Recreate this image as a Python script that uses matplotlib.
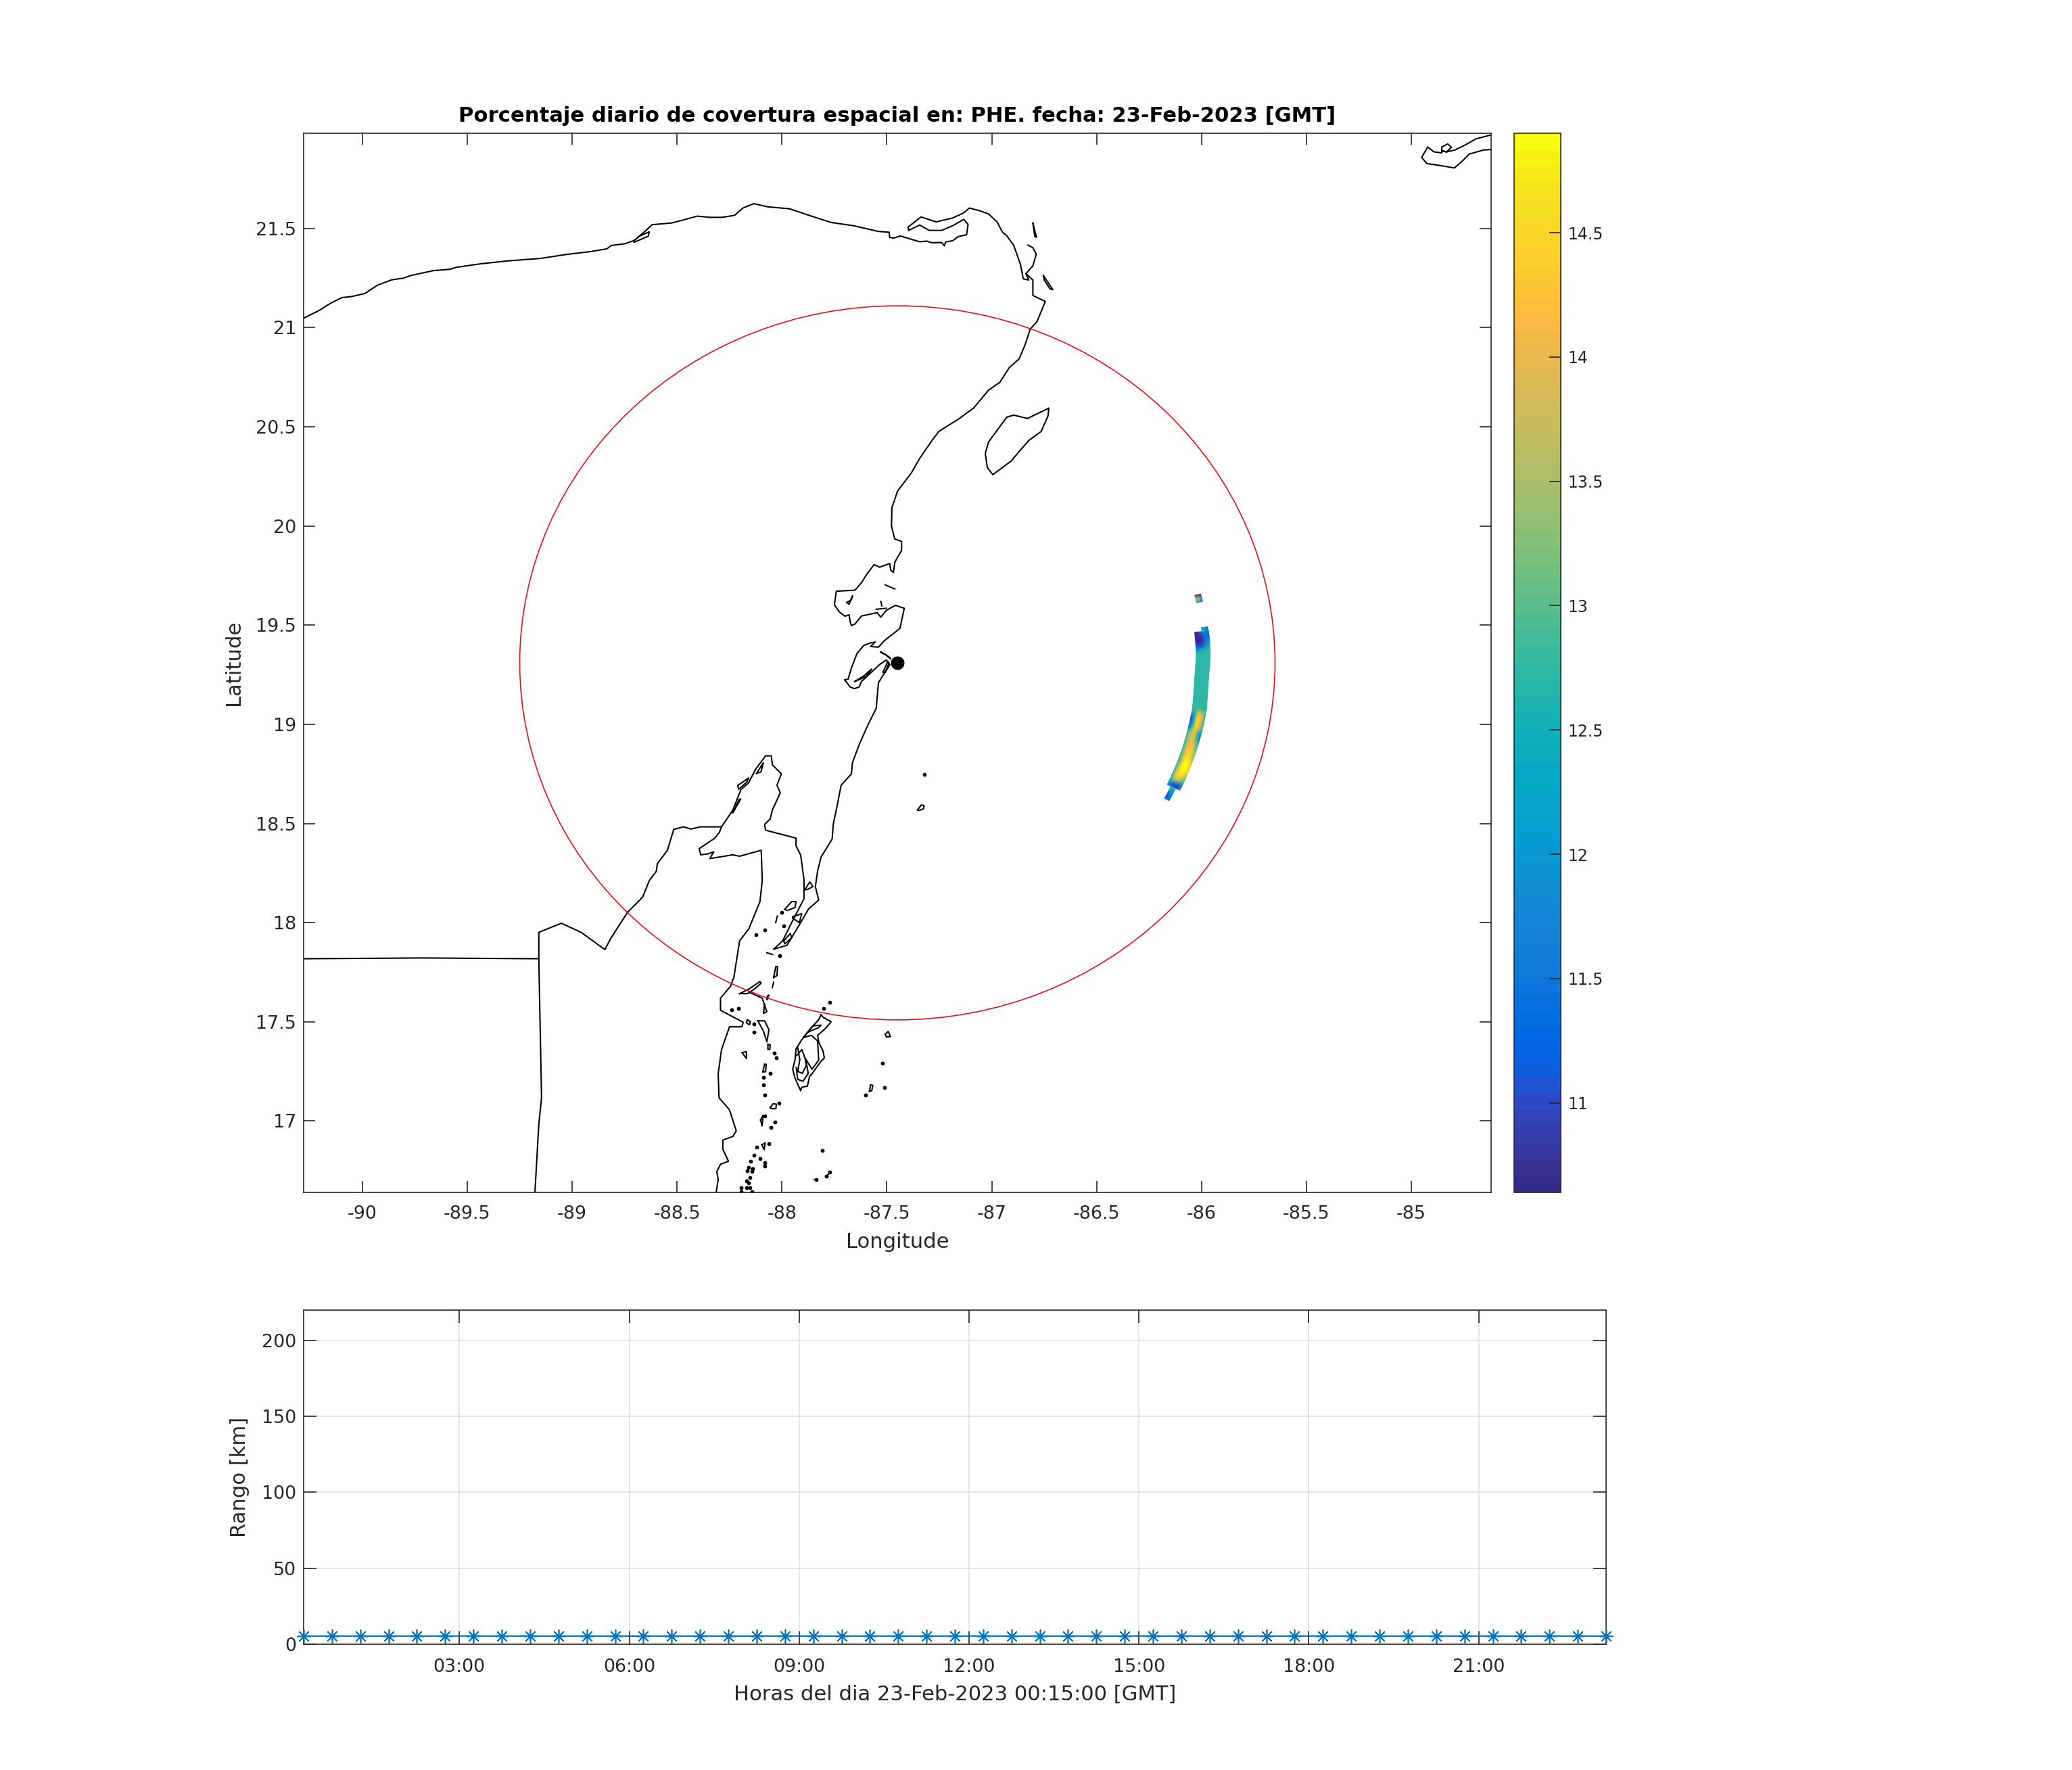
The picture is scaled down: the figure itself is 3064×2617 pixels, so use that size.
import numpy as np
import matplotlib
matplotlib.use("Agg")
import matplotlib.pyplot as plt
from matplotlib.colors import ListedColormap
from matplotlib.patches import Circle

plt.rcParams["font.family"] = "DejaVu Sans"
plt.rcParams["axes.unicode_minus"] = False

# radar site and its coverage circle (degrees)
radar_lon = -87.45
radar_lat = 19.31
coverage_radius = 1.8

# ---- coast lines, lon/lat ----
coast_north = [(-90.277,21.049),(-90.207,21.086),(-90.151,21.123),(-90.099,21.151),(-90.05,21.157),
    (-89.988,21.172),(-89.928,21.214),(-89.86,21.241),(-89.806,21.249),(-89.768,21.263),(-89.663,21.287),
    (-89.583,21.294),(-89.552,21.304),(-89.434,21.322),(-89.31,21.336),(-89.15,21.349),(-89.026,21.369),
    (-88.915,21.383),(-88.835,21.397),(-88.814,21.414),(-88.748,21.423),(-88.706,21.439),(-88.680,21.461),
    (-88.643,21.495),(-88.619,21.519),(-88.523,21.528),(-88.404,21.562),(-88.344,21.556),(-88.285,21.556),
    (-88.226,21.566),(-88.186,21.603),(-88.134,21.625),(-88.068,21.609),(-87.963,21.599),(-87.871,21.566),
    (-87.765,21.53),(-87.66,21.514),(-87.541,21.485),(-87.489,21.481),(-87.487,21.455),(-87.469,21.451),
    (-87.436,21.462),(-87.344,21.433),(-87.31,21.436),(-87.285,21.428),(-87.239,21.429),(-87.226,21.412),
    (-87.22,21.432),(-87.186,21.438),(-87.16,21.459),(-87.12,21.468),(-87.113,21.52),(-87.133,21.546),
    (-87.186,21.514),(-87.239,21.490),(-87.298,21.490),(-87.344,21.517),(-87.397,21.490),(-87.399,21.507),
    (-87.337,21.558),(-87.265,21.533),(-87.186,21.553),(-87.133,21.579),(-87.107,21.603),(-87.06,21.59),
    (-87.015,21.573),(-86.975,21.533),(-86.949,21.481),(-86.93,21.465),(-86.896,21.416),(-86.863,21.318),
    (-86.850,21.246),(-86.824,21.240),(-86.837,21.272),(-86.804,21.312),(-86.788,21.370),(-86.804,21.403),
    (-86.828,21.416)]
coast_east = [(-86.837,21.272),(-86.804,21.240),(-86.804,21.162),(-86.745,21.132),(-86.784,21.031),
    (-86.817,20.992),(-86.841,20.914),(-86.870,20.842),(-86.916,20.799),(-86.962,20.724),(-87.015,20.685),
    (-87.087,20.594),(-87.160,20.538),(-87.252,20.477),(-87.285,20.431),(-87.344,20.340),(-87.383,20.268),
    (-87.449,20.176),(-87.476,20.092),(-87.478,20.000),(-87.463,19.935),(-87.430,19.922),(-87.430,19.876),
    (-87.462,19.818),(-87.469,19.765),(-87.482,19.778),(-87.486,19.811),(-87.535,19.792),(-87.561,19.805),
    (-87.594,19.759),(-87.620,19.716),(-87.642,19.688),(-87.653,19.676),(-87.741,19.671),(-87.750,19.603),
    (-87.728,19.568),(-87.70,19.545),(-87.680,19.552),(-87.675,19.517),(-87.669,19.498),(-87.652,19.506),
    (-87.621,19.546),(-87.546,19.563),(-87.529,19.540),(-87.503,19.574),(-87.46,19.60),(-87.417,19.585),
    (-87.438,19.483),(-87.513,19.421),(-87.540,19.389),(-87.578,19.392),(-87.555,19.415),(-87.580,19.410),
    (-87.610,19.398),(-87.642,19.358),(-87.669,19.284),(-87.685,19.227),(-87.702,19.225),(-87.675,19.188),
    (-87.655,19.18),(-87.632,19.188),(-87.621,19.216),(-87.535,19.301),(-87.503,19.324),(-87.49,19.31),
    (-87.505,19.27),(-87.540,19.210),(-87.551,19.080),(-87.589,19.000),(-87.632,18.898),(-87.664,18.807),
    (-87.669,18.750),(-87.718,18.693),(-87.739,18.580),(-87.755,18.500),(-87.761,18.421),(-87.814,18.330),
    (-87.830,18.261),(-87.841,18.182),(-87.825,18.114),(-87.874,18.068),(-87.911,18.000),(-87.976,17.886),
    (-88.040,17.866),(-87.997,17.908),(-87.954,18.000),(-87.895,18.121),(-87.895,18.216),(-87.911,18.341),
    (-87.933,18.387),(-87.933,18.426),(-88.078,18.466),(-88.083,18.495),(-88.056,18.523),(-88.046,18.568),
    (-88.008,18.654),(-88.024,18.693),(-88.003,18.750),(-88.046,18.796),(-88.051,18.841),(-88.078,18.841),
    (-88.126,18.773),(-88.159,18.705),(-88.196,18.670),(-88.234,18.568),(-88.288,18.483),(-88.390,18.483),
    (-88.433,18.472),(-88.470,18.483),(-88.516,18.470)]
coast_west = [(-90.28,17.818),(-89.713,17.822),(-89.159,17.818),(-89.159,17.951),(-89.052,17.997),(-88.957,17.951),
    (-88.844,17.864),(-88.818,17.917),(-88.737,18.051),(-88.664,18.129),(-88.632,18.213),(-88.599,18.259),
    (-88.594,18.297),(-88.546,18.365),(-88.516,18.470)]
border_south = [(-89.159,17.818),(-89.146,17.118),(-89.159,16.985),(-89.178,16.632)]
coast_belize = [(-88.288,18.483),(-88.298,18.456),(-88.320,18.426),(-88.395,18.373),(-88.387,18.342),(-88.352,18.347),
    (-88.325,18.357),(-88.344,18.323),(-88.234,18.342),(-88.202,18.335),(-88.099,18.365),(-88.094,18.213),
    (-88.105,18.106),(-88.158,17.969),(-88.202,17.908),(-88.229,17.726),(-88.245,17.680),(-88.293,17.619),
    (-88.293,17.558),(-88.239,17.528),(-88.185,17.498),(-88.191,17.475),(-88.250,17.475),(-88.288,17.361),
    (-88.304,17.239),(-88.300,17.117),(-88.250,17.056),(-88.218,16.950),(-88.234,16.922),(-88.282,16.904),
    (-88.282,16.858),(-88.255,16.797),(-88.293,16.782),(-88.311,16.744),(-88.304,16.706),(-88.315,16.630)]
holbox = [(-88.705,21.430),(-88.637,21.461),(-88.633,21.483),(-88.680,21.461),(-88.705,21.438)]
cuba_tip = [(-84.60,21.90),(-84.658,21.895),(-84.724,21.875),(-84.756,21.841),(-84.795,21.805),(-84.855,21.816),
    (-84.926,21.827),(-84.951,21.858),(-84.922,21.911),(-84.893,21.886),(-84.855,21.881),(-84.855,21.911),
    (-84.827,21.926),(-84.809,21.909),(-84.833,21.886),(-84.855,21.892),(-84.833,21.886),(-84.794,21.895),
    (-84.745,21.920),(-84.691,21.952),(-84.60,21.977)]
cozumel = [(-86.929,20.548),(-86.896,20.559),(-86.830,20.542),(-86.728,20.594),(-86.732,20.555),(-86.765,20.476),
    (-86.824,20.431),(-86.909,20.326),(-86.995,20.259),(-87.021,20.294),(-87.031,20.366),(-87.015,20.424),(-86.929,20.548)]
turneffe = [(-87.814,17.536),(-87.825,17.511),(-87.868,17.460),(-87.906,17.409),(-87.933,17.364),(-87.938,17.307),
    (-87.949,17.261),(-87.938,17.216),(-87.911,17.153),(-87.906,17.170),(-87.879,17.176),(-87.868,17.226),
    (-87.857,17.238),(-87.814,17.301),(-87.798,17.318),(-87.804,17.352),(-87.825,17.398),(-87.830,17.432),
    (-87.793,17.466),(-87.766,17.500),(-87.804,17.523),(-87.814,17.536)]
turneffe_inner = [(-87.874,17.449),(-87.825,17.471),(-87.814,17.483),(-87.852,17.480),(-87.900,17.420),(-87.860,17.432),
    (-87.830,17.403),(-87.825,17.307),(-87.857,17.261),(-87.890,17.318),(-87.884,17.280),(-87.903,17.240),
    (-87.925,17.25),(-87.915,17.31),(-87.925,17.37)]
turneffe_reef = [(-87.930,17.33),(-87.905,17.36),(-87.885,17.30),(-87.875,17.24),(-87.900,17.20),(-87.925,17.21),(-87.932,17.27)]

# islands, reefs and cays, closed or streak shaped
islands = [
    [(-86.804,21.527),(-86.787,21.455),(-86.795,21.46),(-86.804,21.527)],
    [(-86.754,21.263),(-86.709,21.191),(-86.722,21.195),(-86.750,21.24),(-86.754,21.263)],
    [(-87.508,19.703),(-87.462,19.682)],
    [(-87.529,19.620),(-87.524,19.597)],
    [(-87.551,19.580),(-87.503,19.585)],
    [(-87.691,19.614),(-87.669,19.628),(-87.664,19.648),(-87.680,19.605),(-87.691,19.614)],
    [(-87.529,19.364),(-87.503,19.350),(-87.481,19.330),(-87.508,19.352),(-87.529,19.364)],
    [(-87.497,19.313),(-87.519,19.262),(-87.508,19.262),(-87.486,19.301),(-87.497,19.313)],
    [(-87.653,19.216),(-87.610,19.244),(-87.572,19.279),(-87.60,19.24),(-87.653,19.216)],
    [(-87.354,18.568),(-87.336,18.593),(-87.323,18.591),(-87.325,18.574),(-87.347,18.565),(-87.354,18.568)],
    [(-88.234,18.555),(-88.196,18.624),(-88.205,18.62),(-88.234,18.555)],
    [(-88.210,18.692),(-88.158,18.730),(-88.169,18.707),(-88.207,18.672),(-88.210,18.692)],
    [(-88.121,18.753),(-88.089,18.806),(-88.10,18.76),(-88.121,18.753)],
    [(-87.986,18.068),(-87.954,18.106),(-87.933,18.106),(-87.938,18.076),(-87.976,18.061),(-87.986,18.068)],
    [(-87.949,18.030),(-87.906,18.045),(-87.917,18.0),(-87.949,18.022),(-87.949,18.030)],
    [(-88.030,18.0),(-88.022,18.033)],
    [(-87.890,18.167),(-87.868,18.205),(-87.852,18.182),(-87.879,18.167),(-87.890,18.167)],
    [(-87.992,17.908),(-87.960,17.946),(-87.954,17.924),(-87.986,17.893),(-87.992,17.908)],
    [(-88.072,17.848),(-88.045,17.840)],
    [(-88.040,17.723),(-88.029,17.779),(-88.021,17.779),(-88.024,17.733),(-88.040,17.723)],
    [(-88.046,17.672),(-88.040,17.700)],
    [(-88.072,17.612),(-88.062,17.635),(-88.07,17.63),(-88.072,17.612)],
    [(-88.202,17.642),(-88.158,17.665),(-88.105,17.703),(-88.099,17.695),(-88.132,17.665),(-88.164,17.642),(-88.202,17.642)],
    [(-88.158,17.650),(-88.094,17.619),(-88.072,17.551),(-88.088,17.543),(-88.083,17.589)],
    [(-88.115,17.505),(-88.083,17.505),(-88.062,17.460),(-88.072,17.399),(-88.088,17.452),(-88.115,17.505)],
    [(-88.165,17.51),(-88.150,17.50),(-88.155,17.485),(-88.170,17.495),(-88.165,17.51)],
    [(-88.190,17.345),(-88.17,17.35),(-88.169,17.315),(-88.18,17.33),(-88.190,17.345)],
    [(-87.508,17.437),(-87.494,17.452),(-87.483,17.426),(-87.502,17.423),(-87.508,17.437)],
    [(-87.583,17.150),(-87.578,17.182),(-87.567,17.180),(-87.572,17.153),(-87.583,17.150)],
    [(-88.056,17.068),(-88.042,17.087),(-88.027,17.085),(-88.029,17.062),(-88.051,17.062),(-88.056,17.068)],
    [(-88.067,17.386),(-88.056,17.384),(-88.058,17.361),(-88.067,17.361),(-88.067,17.386)],
    [(-88.091,17.248),(-88.083,17.287),(-88.075,17.286),(-88.078,17.248),(-88.091,17.248)],
    [(-88.102,17.005),(-88.09,17.03),(-88.095,16.975),(-88.102,17.005)],
    [(-88.096,16.88),(-88.08,16.89),(-88.085,16.855),(-88.096,16.88)],
    [(-87.788,16.721),(-87.771,16.741)],
    [(-87.846,16.704),(-87.83,16.704)],
]
cay_lon = [-87.771,-87.801,-88.241,-88.207,-88.132,-88.134,-88.037,-88.027,-88.056,-88.089,-88.089,-88.083,-88.015,
           -88.081,-88.032,-88.053,-88.062,-88.121,-88.133,-88.103,-88.151,-88.081,-88.081,-88.158,-88.139,-88.164,
           -88.144,-88.153,-88.169,-88.158,-88.169,-88.153,-88.196,-88.196,-88.142,-87.808,-87.521,-87.601,-87.511,
           -87.838,-87.788,-87.771,-87.320,-88.002,-87.990,-88.083,-88.123,-88.010]
cay_lat = [17.597,17.566,17.560,17.568,17.489,17.449,17.341,17.318,17.241,17.219,17.182,17.131,17.091,
           17.025,16.996,16.968,16.884,16.869,16.829,16.812,16.798,16.790,16.773,16.767,16.761,16.748,
           16.746,16.716,16.699,16.687,16.665,16.665,16.665,16.642,16.642,16.850,17.292,17.131,17.170,
           16.704,16.721,16.741,18.747,18.053,17.985,17.962,17.939,17.832]

# ---- coverage swath: bearing (deg from east), range (deg), percentage ----
main_bearing = [6.2,5.2,4.2,3.2,2.4,1.5,-9.0,-9.9,-10.8,-12.0,-13.0,-14.0,-15.0,-16.0,-17.5,-19.0,-20.0,-21.5,-23.0,-24.0,-24.8,-25.5]
main_range = [1.425,1.44,1.457,1.475,1.492]
main_pct = [[10.7,10.8,11.4,11.9,11.3],
            [10.65,10.65,10.9,11.5,11.2],
            [10.75,10.65,10.8,11.6,12.0],
            [11.3,11.0,11.5,12.2,12.7],
            [12.3,12.5,12.7,12.75,12.75],
            [12.75,12.75,12.75,12.75,12.75],
            [12.75,12.75,12.75,12.75,12.75],
            [12.7,12.75,13.9,13.4,12.75],
            [11.0,12.2,14.5,14.2,12.75],
            [11.0,12.3,14.6,14.0,12.75],
            [11.3,12.75,14.4,13.9,12.75],
            [12.75,13.4,14.3,12.9,11.6],
            [12.75,13.6,14.2,13.0,11.5],
            [12.75,13.7,14.2,13.6,12.5],
            [12.75,13.8,14.4,14.3,13.0],
            [12.75,13.8,14.6,14.5,13.2],
            [12.75,13.6,14.9,14.9,14.0],
            [12.75,14.0,14.9,14.9,14.3],
            [12.75,14.2,14.7,14.4,13.4],
            [12.6,13.4,13.6,13.2,12.6],
            [12.3,11.8,11.2,11.0,11.8],
            [12.0,11.4,11.0,10.9,12.0]]
stub_n_bearing = [7.0,6.2]
stub_n_range = [1.46,1.475,1.49]
stub_n_pct = [[12.6,12.2,11.4],[12.75,12.0,11.3]]
stub_s_bearing = [-25.7,-26.5,-27.5,-28.2]
stub_s_range = [1.445,1.457,1.47]
stub_s_pct = [[12.6,12.6,12.3],[12.0,12.0,12.2],[11.0,11.3,11.8],[11.2,11.5,11.5]]
patch_n_bearing = [13.5,12.8,12.0]
patch_n_range = [1.458,1.472,1.487]
patch_n_pct = [[10.8,10.7,10.9],[13.5,14.0,11.5],[12.2,12.6,11.5]]

# ---- range vs hour panel ----
hours = [0.25,0.75,1.25,1.75,2.25,2.75,3.25,3.75,4.25,4.75,5.25,5.75,6.25,6.75,7.25,7.75,8.25,8.75,9.25,9.75,
         10.25,10.75,11.25,11.75,12.25,12.75,13.25,13.75,14.25,14.75,15.25,15.75,16.25,16.75,17.25,17.75,18.25,18.75,
         19.25,19.75,20.25,20.75,21.25,21.75,22.25,22.75,23.25]
range_km = [5.4,5.4,5.4,5.4,5.4,5.4,5.4,5.4,5.4,5.4,5.4,5.4,5.4,5.4,5.4,5.4,5.4,5.4,5.4,5.4,
            5.4,5.4,5.4,5.4,5.4,5.4,5.4,5.4,5.4,5.4,5.4,5.4,5.4,5.4,5.4,5.4,5.4,5.4,
            5.4,5.4,5.4,5.4,5.4,5.4,5.4,5.4,5.4]

lon_ticks = [-90,-89.5,-89,-88.5,-88,-87.5,-87,-86.5,-86,-85.5,-85]
lon_labels = ["-90","-89.5","-89","-88.5","-88","-87.5","-87","-86.5","-86","-85.5","-85"]
lat_ticks = [17,17.5,18,18.5,19,19.5,20,20.5,21,21.5]
lat_labels = ["17","17.5","18","18.5","19","19.5","20","20.5","21","21.5"]
cbar_ticks = [11,11.5,12,12.5,13,13.5,14,14.5]
cbar_labels = ["11","11.5","12","12.5","13","13.5","14","14.5"]
hour_ticks = [3,6,9,12,15,18,21]
hour_labels = ["03:00","06:00","09:00","12:00","15:00","18:00","21:00"]
range_ticks = [0,50,100,150,200]

parula = ListedColormap([
    (0.2081,0.1663,0.5292),(0.2116,0.1898,0.5777),(0.2123,0.2138,0.6270),(0.2081,0.2386,0.6771),
    (0.1959,0.2645,0.7279),(0.1707,0.2919,0.7792),(0.1253,0.3242,0.8303),(0.0591,0.3598,0.8683),
    (0.0117,0.3875,0.8820),(0.0060,0.4086,0.8828),(0.0165,0.4266,0.8786),(0.0329,0.4430,0.8720),
    (0.0498,0.4586,0.8641),(0.0629,0.4737,0.8554),(0.0723,0.4887,0.8467),(0.0779,0.5040,0.8384),
    (0.0793,0.5200,0.8312),(0.0749,0.5375,0.8263),(0.0641,0.5570,0.8240),(0.0488,0.5772,0.8228),
    (0.0343,0.5966,0.8199),(0.0265,0.6137,0.8135),(0.0239,0.6287,0.8038),(0.0231,0.6418,0.7913),
    (0.0228,0.6535,0.7768),(0.0267,0.6642,0.7607),(0.0384,0.6743,0.7436),(0.0590,0.6838,0.7254),
    (0.0843,0.6928,0.7062),(0.1133,0.7015,0.6859),(0.1453,0.7098,0.6646),(0.1801,0.7177,0.6424),
    (0.2178,0.7250,0.6193),(0.2586,0.7317,0.5954),(0.3022,0.7376,0.5712),(0.3482,0.7424,0.5473),
    (0.3953,0.7459,0.5244),(0.4420,0.7481,0.5033),(0.4871,0.7491,0.4840),(0.5300,0.7491,0.4661),
    (0.5709,0.7485,0.4494),(0.6099,0.7473,0.4337),(0.6473,0.7456,0.4188),(0.6834,0.7435,0.4044),
    (0.7184,0.7411,0.3905),(0.7525,0.7384,0.3768),(0.7858,0.7356,0.3633),(0.8185,0.7327,0.3498),
    (0.8507,0.7299,0.3360),(0.8824,0.7274,0.3217),(0.9139,0.7258,0.3063),(0.9450,0.7261,0.2886),
    (0.9739,0.7314,0.2666),(0.9938,0.7455,0.2403),(0.9990,0.7653,0.2164),(0.9955,0.7861,0.1967),
    (0.9880,0.8066,0.1794),(0.9789,0.8271,0.1633),(0.9697,0.8481,0.1475),(0.9626,0.8705,0.1309),
    (0.9589,0.8949,0.1132),(0.9598,0.9218,0.0948),(0.9661,0.9514,0.0755),(0.9763,0.9831,0.0538)])

W, H = 3064, 2617
DARK = (0.15, 0.15, 0.15)


def px_axes(fig, left, top, right, bottom):
    return fig.add_axes([left / W, 1 - bottom / H, (right - left) / W, (bottom - top) / H])


def draw_swath(ax, bearing, rng, pct):
    # polar cells around the radar, shaded like matlab "interp"
    b, r = np.meshgrid(np.radians(bearing), rng, indexing="ij")
    x = radar_lon + r * np.cos(b)
    y = radar_lat + r * np.sin(b)
    return ax.pcolormesh(x, y, np.array(pct), shading="gouraud", cmap=parula, vmin=10.64, vmax=14.9, zorder=1)


def style_box(ax, tick_len, xpad):
    for s in ax.spines.values():
        s.set_color(DARK)
        s.set_linewidth(0.6)
    ax.tick_params(direction="in", length=tick_len, width=0.6, color=DARK, labelcolor=DARK,
                   labelsize=9.7, top=True, right=True, pad=4)
    ax.tick_params(axis="x", pad=xpad)


fig = plt.figure(figsize=(W / 200, H / 200), dpi=200)

# map panel
ax = px_axes(fig, 449, 197, 2205, 1763)
mesh = draw_swath(ax, main_bearing, main_range, main_pct)
draw_swath(ax, stub_n_bearing, stub_n_range, stub_n_pct)
draw_swath(ax, stub_s_bearing, stub_s_range, stub_s_pct)
draw_swath(ax, patch_n_bearing, patch_n_range, patch_n_pct)

lines = [coast_north, coast_east, coast_west, border_south, coast_belize, holbox, cuba_tip, cozumel,
         turneffe, turneffe_inner, turneffe_reef] + islands
for seg in lines:
    lon, lat = zip(*seg)
    ax.plot(lon, lat, color="k", lw=0.75, zorder=2)
ax.plot(cay_lon, cay_lat, ls="none", marker="o", ms=2.1, color="k", mew=0, zorder=2)

ax.add_patch(Circle((radar_lon, radar_lat), coverage_radius, fill=False, ec="#e6121f", lw=0.6, zorder=3))
ax.plot([radar_lon], [radar_lat], marker="o", ms=7.2, color="k", mew=0, zorder=4)

ax.set_xlim(-90.28, -84.62)
ax.set_ylim(16.64, 21.98)
ax.set_xticks(lon_ticks)
ax.set_xticklabels(lon_labels)
ax.set_yticks(lat_ticks)
ax.set_yticklabels(lat_labels)
style_box(ax, 6.2, 6.8)
ax.set_xlabel("Longitude", fontsize=11.05, color=DARK, labelpad=5)
ax.set_ylabel("Latitude", fontsize=11.05, color=DARK, labelpad=6.3)
ax.set_title("Porcentaje diario de covertura espacial en: PHE. fecha: 23-Feb-2023 [GMT]",
             fontsize=11.05, fontweight="bold", color="k", pad=6.2)

# colour bar
cax = px_axes(fig, 2239, 197, 2308, 1763)
cb = fig.colorbar(mesh, cax=cax)
cb.set_ticks(cbar_ticks)
cb.set_ticklabels(cbar_labels)
cb.outline.set_edgecolor(DARK)
cb.outline.set_linewidth(0.6)
cax.tick_params(direction="in", length=6.2, width=0.6, color=DARK, labelcolor=DARK, labelsize=8.5, pad=3.6)

# range panel
ax2 = px_axes(fig, 449, 1937, 2375, 2431)
ax2.plot(hours, range_km, color="#0072BD", lw=0.7, marker=(8, 2, 0), ms=7.2, mew=0.6, clip_on=False, zorder=3)
ax2.set_xlim(0.25, 23.25)
ax2.set_ylim(0, 220)
ax2.set_xticks(hour_ticks)
ax2.set_xticklabels(hour_labels)
ax2.set_yticks(range_ticks)
ax2.grid(True, color="#e1e1e1", lw=0.6)
ax2.set_axisbelow(True)
style_box(ax2, 7, 7.5)
ax2.set_xlabel("Horas del dia 23-Feb-2023 00:15:00 [GMT]", fontsize=11.05, color=DARK, labelpad=4.5)
ax2.set_ylabel("Rango [km]", fontsize=11.05, color=DARK, labelpad=6.3)

fig.savefig("out.png", dpi=200, facecolor="white")
